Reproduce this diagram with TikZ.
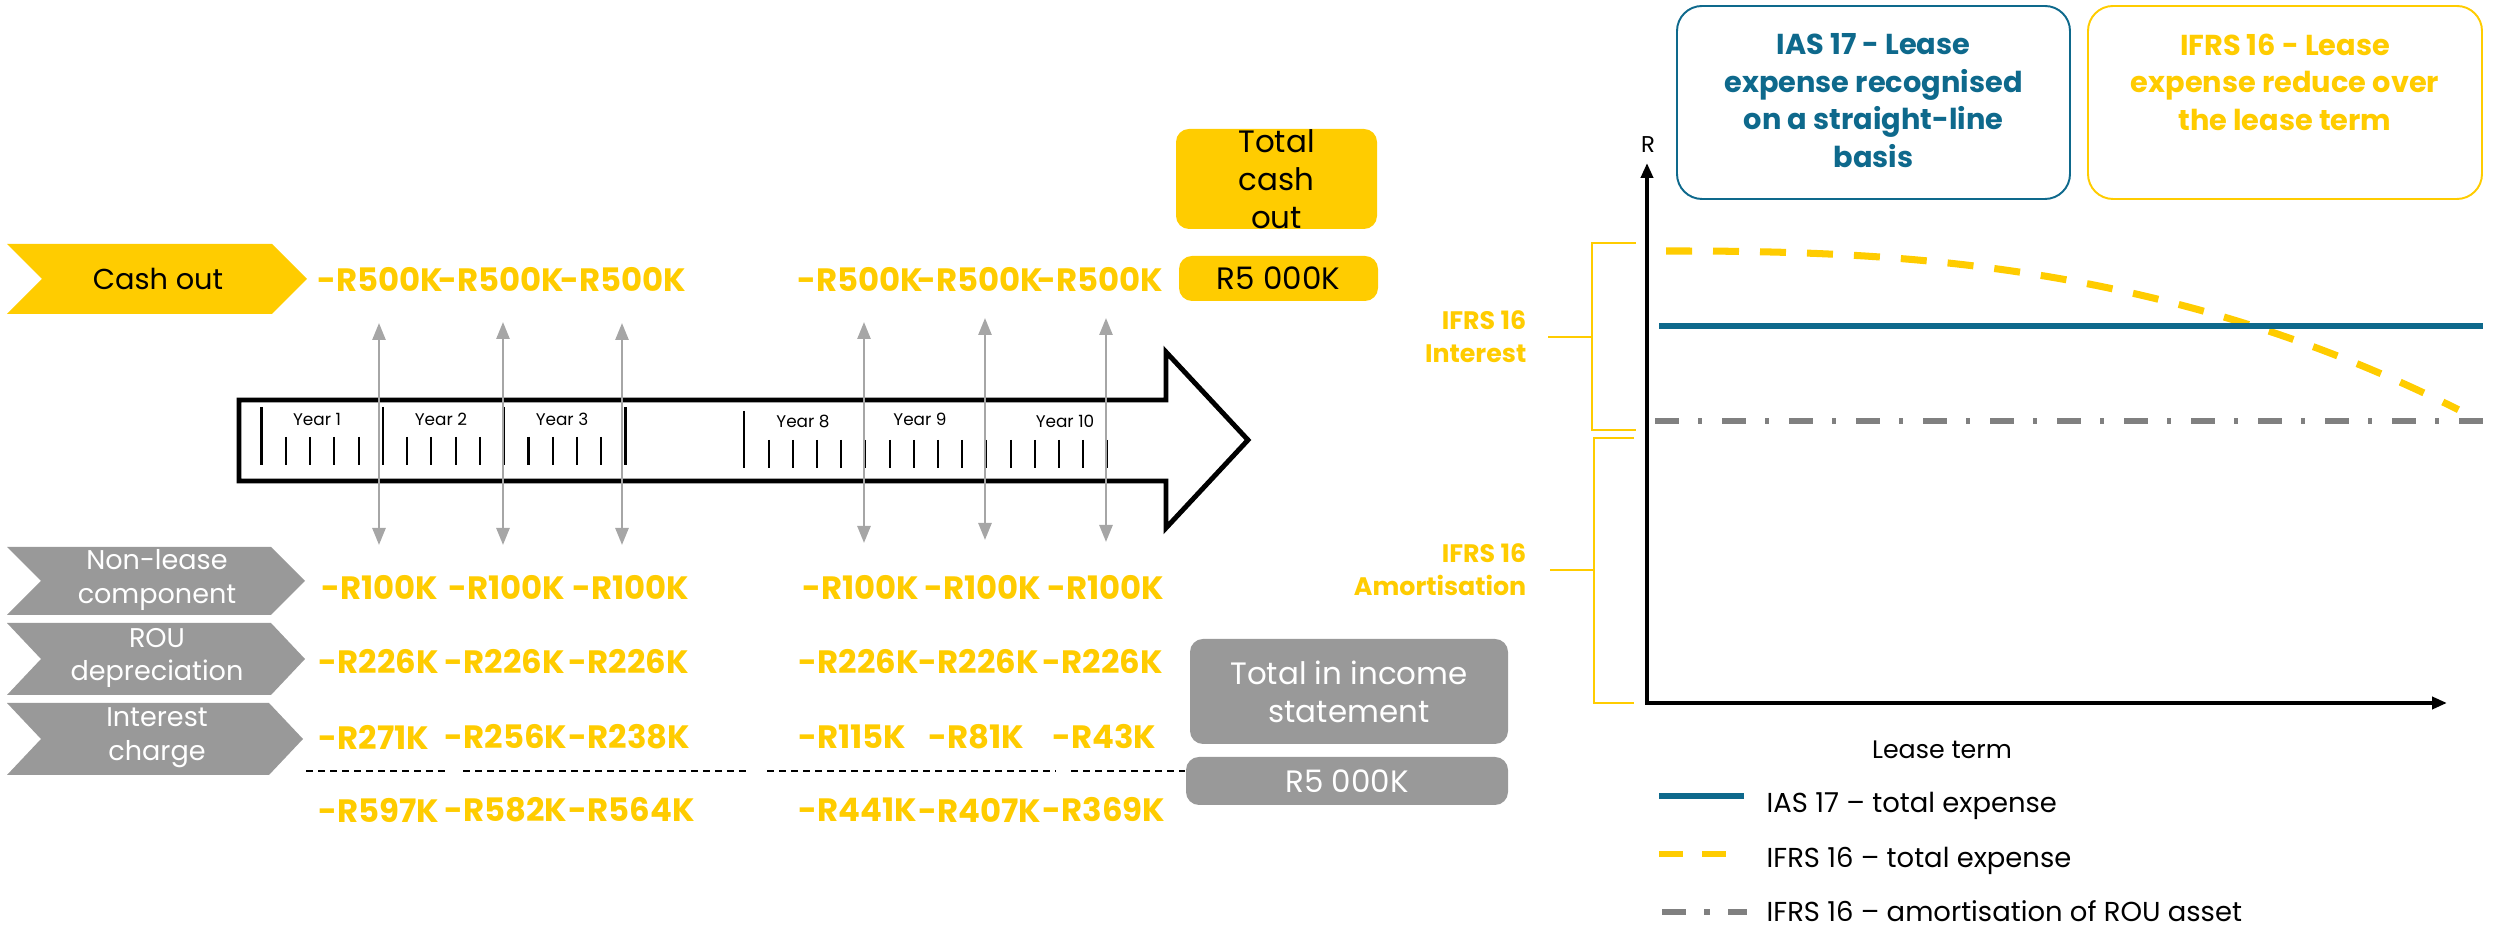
\documentclass[tikz,border=0pt]{standalone}
\usepackage{fontspec}
\setmainfont{Poppins}
\usetikzlibrary{arrows.meta}

\definecolor{ifrsyellow}{RGB}{255,204,0}
\definecolor{labelgray}{RGB}{153,153,153}
\definecolor{arrowgray}{RGB}{166,166,166}
\definecolor{iasblue}{RGB}{14,105,140}
\definecolor{rougray}{RGB}{128,128,128}

\tikzset{
  val/.style={anchor=west, inner sep=0pt, text=ifrsyellow,
    font=\fontsize{9.2}{11}\selectfont\bfseries},
  chevtext/.style={inner sep=0pt, align=center, text=white,
    font=\fontsize{7.7}{9.6}\selectfont},
  yeartext/.style={inner sep=0pt, font=\fontsize{4.8}{6}\selectfont},
  tickline/.style={line width=0.6pt},
  gaparrow/.style={arrowgray, line width=0.75pt,
    {Triangle[width=1.3mm,length=1.7mm]}-{Triangle[width=1.3mm,length=1.7mm]}},
  sumline/.style={line width=0.45pt, dash pattern=on 0.7mm off 0.5mm},
  ybox/.style={fill=ifrsyellow, rounded corners=1.3mm, inner sep=0pt},
  gbox/.style={fill=labelgray, rounded corners=1.3mm, inner sep=0pt},
  boxtext/.style={inner sep=0pt, align=center, font=\fontsize{8.8}{10.8}\selectfont},
  headbox/.style={line width=0.55pt, rounded corners=2.5mm, inner sep=0pt,
    minimum height=19.3mm},
  headtext/.style={anchor=north, inner sep=0pt, align=center,
    font=\fontsize{8.2}{10.7}\selectfont\bfseries},
  bracket/.style={ifrsyellow, line width=0.55pt},
  sidelabel/.style={anchor=east, inner sep=0pt, align=right, text=ifrsyellow,
    font=\fontsize{7.2}{9.4}\selectfont\bfseries},
  axisline/.style={line width=1.3pt, line join=miter,
    {Triangle[width=1.2mm,length=1.5mm]}-{Triangle[width=1.2mm,length=1.5mm]}},
  iasline/.style={iasblue, line width=1.5pt},
  ifrsline/.style={ifrsyellow, line width=2pt, dash pattern=on 2.6mm off 2.1mm},
  rouline/.style={rougray, line width=1.6pt,
    dash pattern=on 2.4mm off 1.9mm on 0.4mm off 2.0mm},
  legtext/.style={anchor=base west, inner sep=0pt, font=\fontsize{7.8}{9}\selectfont},
}

\begin{document}
\begin{tikzpicture}[x=0.1mm, y=-0.1mm]
\useasboundingbox (0,0) rectangle (2496,927);

% ---------- row headers (chevrons) ----------
\fill[ifrsyellow] (7,244) -- (272,244) -- (307,279) -- (272,314) -- (7,314) -- (42,279) -- cycle;
\node[inner sep=0pt, font=\fontsize{8.2}{10}\selectfont] (cashlbl) at (158,279) {Cash out};

\fill[labelgray] (7,547) -- (271,547) -- (305,581) -- (271,615) -- (7,615) -- (41,581) -- cycle;
\node[chevtext] (nllbl) at (157,580) {Non-lease\\component};

\fill[labelgray] (7,623) -- (271,623) -- (305,659) -- (271,695) -- (7,695) -- (41,659) -- cycle;
\node[chevtext] (roulbl) at (157,658) {ROU\\depreciation};

\fill[labelgray] (7,703) -- (269,703) -- (303,739) -- (269,775) -- (7,775) -- (41,739) -- cycle;
\node[chevtext] (intlbl) at (157,738) {Interest\\charge};

% ---------- timeline arrow ----------
\draw[line width=1.4pt, fill=white, line join=miter]
  (239,400) -- (1166,400) -- (1166,352) -- (1248,440) -- (1166,528) -- (1166,481) -- (239,481) -- cycle;

% year ticks, years 1-3
\foreach \k in {0,...,15}{
  \pgfmathsetmacro\xx{261.5+24.27*\k}
  \pgfmathtruncatemacro\m{mod(\k,5)}
  \ifnum\m=0
    \draw[tickline] (\xx,407) -- (\xx,465);
  \else
    \draw[tickline] (\xx,437) -- (\xx,465);
  \fi
}
% year ticks, years 8-10
\draw[tickline] (744.4,411) -- (744.4,468);
\foreach \k in {1,...,15}{
  \pgfmathsetmacro\xx{744.4+24.2*\k}
  \draw[tickline] (\xx,440) -- (\xx,468);
}

\node[yeartext] (y1) at (317,419) {Year 1};
\node[yeartext] (y2) at (441,419) {Year 2};
\node[yeartext] (y3) at (562,419) {Year 3};
\node[yeartext] (y8) at (803,421) {Year 8};
\node[yeartext] (y9) at (920,419) {Year 9};
\node[yeartext] (y10) at (1065,421) {Year 10};

% double arrows linking cash out and expenses per year
\foreach \x/\t/\b [count=\i] in {379/323/545, 503/322/545, 622/323/545, 864/322/543, 985/318/540, 1106/318/542}{
  \coordinate (gtop\i) at (\x,\t);
  \coordinate (gbot\i) at (\x,\b);
  \draw[gaparrow] (gtop\i) -- (gbot\i);
}

% ---------- yearly amounts ----------
\foreach \x/\v [count=\i] in {317/-R500K, 438/-R500K, 560/-R500K, 797/-R500K, 917/-R500K, 1037/-R500K}
  \node[val] (cash\i) at (\x,279) {\v};
\foreach \x/\v [count=\i] in {321/-R100K, 448/-R100K, 572/-R100K, 802/-R100K, 924/-R100K, 1047/-R100K}
  \node[val] (nl\i) at (\x,587) {\v};
\foreach \x/\v [count=\i] in {318/-R226K, 444/-R226K, 568/-R226K, 798/-R226K, 918/-R226K, 1042/-R226K}
  \node[val] (rou\i) at (\x,662) {\v};
\foreach \x/\v [count=\i] in {318/-R271K, 444/-R256K, 568/-R238K, 798/-R115K, 928/-R81K, 1052/-R43K}
  \node[val] (int\i) at (\x,737) {\v};
\foreach \x/\v [count=\i] in {318/-R597K, 444/-R582K, 568/-R564K, 798/-R441K, 918/-R407K, 1042/-R369K}
  \node[val] (tot\i) at (\x,810) {\v};

% ---------- totals ----------
\node[ybox, minimum width=20.1mm, minimum height=10mm] (tcobox) at (1276.5,179) {};
\node[boxtext] (tcotext) at (tcobox.center) {Total\\cash\\out};
\node[ybox, boxtext, minimum width=19.9mm, minimum height=4.5mm] (tcoval) at (1278.5,278.5) {R5 000K};

\node[gbox, minimum width=31.8mm, minimum height=10.5mm] (tisbox) at (1349,691.5) {};
\node[boxtext, text=white] (tistext) at (tisbox.center) {Total in income\\statement};
\node[gbox, boxtext, text=white, minimum width=32.2mm, minimum height=4.8mm] (tisval) at (1347,781) {R5 000K};

% summation line under the interest row
\coordinate (s1a) at (306,771);  \coordinate (s1b) at (446,771);
\coordinate (s2a) at (463,771);  \coordinate (s2b) at (750,771);
\coordinate (s3a) at (767,771);  \coordinate (s3b) at (1056,771);
\coordinate (s4a) at (1071,771); \coordinate (s4b) at (tisval.west |- s4a);
\draw[sumline] (s1a) -- (s1b);
\draw[sumline] (s2a) -- (s2b);
\draw[sumline] (s3a) -- (s3b);
\draw[sumline] (s4a) -- (s4b);

% ---------- comparison chart ----------
\node[headbox, draw=iasblue, minimum width=39.3mm] (iasbox) at (1873.5,102.5) {};
\node[headtext, text=iasblue] (iastext) at (1873.5,33) {IAS 17 - Lease\\expense recognised\\on a straight-line\\basis};
\node[headbox, draw=ifrsyellow, minimum width=39.4mm] (ifrsbox) at (2285,102.5) {};
\node[headtext, text=ifrsyellow] (ifrstext) at (2285,33) {IFRS 16 - Lease\\expense reduce over\\the lease term};

\coordinate (ytip) at (1647,163);
\coordinate (xtip) at (2447,703);
\draw[axisline] (ytip) |- (xtip);
\node[inner sep=0pt, font=\fontsize{6.5}{8}\selectfont] (rlbl) at (1648,145) {R};

\draw[ifrsline] plot[domain=0:1, samples=80, variable=\t] ({1666+793*\t},{251+159*\t*\t*sqrt(\t)});
\draw[rouline] (1655,421) -- (2483,421);
\draw[iasline] (1659,326) -- (2483,326);

% brackets splitting the IFRS 16 expense
\draw[bracket] (1636,243) -- (1592,243) -- (1592,430) -- (1636,430);
\draw[bracket] (1548,337) -- (1592,337);
\draw[bracket] (1634,438) -- (1594,438) -- (1594,703) -- (1634,703);
\draw[bracket] (1550,570) -- (1594,570);
\node[sidelabel] (intside) at (1527,337) {IFRS 16\\Interest};
\node[sidelabel] (amside) at (1527,570) {IFRS 16\\Amortisation};

\node[inner sep=0pt, font=\fontsize{7.2}{9}\selectfont] (xlbl) at (1942,750) {Lease term};

% legend
\draw[iasblue, line width=1.7pt] (1659,796) -- (1744,796);
\node[legtext] (leg1) at (1766,813) {IAS 17 – total expense};
\draw[ifrsyellow, line width=1.5pt, dash pattern=on 2.4mm off 1.9mm] (1659,854) -- (1744,854);
\node[legtext] (leg2) at (1766,868) {IFRS 16 – total expense};
\draw[rougray, line width=1.5pt, dash pattern=on 2.4mm off 1.8mm on 0.6mm off 1.8mm] (1662,912) -- (1747,912);
\node[legtext] (leg3) at (1766,922) {IFRS 16 – amortisation of ROU asset};
\end{tikzpicture}
\end{document}
